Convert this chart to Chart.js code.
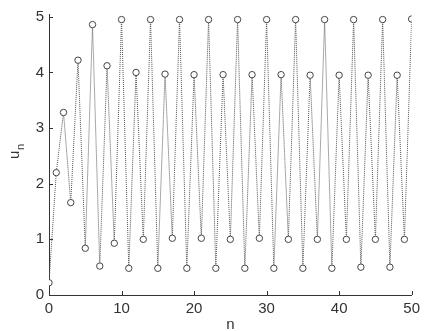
<!DOCTYPE html>
<html>
<head>
<meta charset="utf-8">
<script src="https://cdn.jsdelivr.net/npm/chart.js@4.4.1/dist/chart.umd.min.js"></script>
<style>
    html, body { margin: 0; padding: 0; background: #fff; }
    #wrap { width: 425px; height: 331px; position: relative; }
</style>
</head>
<body>
<div id="wrap"><canvas id="seqChart"></canvas></div>
<script>
// n = 0..50
const nValues = Array.from({ length: 51 }, (_, i) => i);
const uValues = [
    0.22, 2.2, 3.28, 1.66, 4.22, 0.84, 4.86, 0.52, 4.12, 0.93,
    4.95, 0.48, 4.0, 1.0, 4.95, 0.48, 3.97, 1.02, 4.95, 0.48,
    3.96, 1.02, 4.95, 0.48, 3.96, 1.0, 4.95, 0.48, 3.96, 1.02,
    4.95, 0.48, 3.96, 1.0, 4.95, 0.48, 3.95, 1.0, 4.95, 0.48,
    3.95, 1.0, 4.95, 0.5, 3.95, 1.0, 4.95, 0.5, 3.95, 1.0,
    4.96
];
const xTicks = [0, 10, 20, 30, 40, 50];
const yTicks = [0, 1, 2, 3, 4, 5];

const inkColor = '#333333';
const fontFamily = 'Liberation Sans';

// inward tick marks + y label with subscript
const extras = {
    id: 'extras',
    afterDraw(chart) {
        const ctx = chart.ctx;
        const x = chart.scales.x, y = chart.scales.y;
        const area = chart.chartArea;
        ctx.save();
        ctx.strokeStyle = inkColor;
        ctx.lineWidth = 1;
        ctx.beginPath();
        xTicks.forEach(v => {
            const px = Math.round(x.getPixelForValue(v)) + 0.5;
            ctx.moveTo(px, area.bottom);
            ctx.lineTo(px, area.bottom - 4);
        });
        yTicks.forEach(v => {
            const py = Math.round(y.getPixelForValue(v)) + 0.5;
            ctx.moveTo(area.left, py);
            ctx.lineTo(area.left + 4, py);
        });
        ctx.stroke();

        ctx.fillStyle = inkColor;
        ctx.translate(19, 155);
        ctx.rotate(-Math.PI / 2);
        ctx.textBaseline = 'alphabetic';
        ctx.textAlign = 'left';
        ctx.font = '15px ' + fontFamily;
        ctx.fillText('u', -4, 0);
        ctx.font = '11px ' + fontFamily;
        ctx.fillText('n', 5, 5);
        ctx.restore();
    }
};

new Chart(document.getElementById('seqChart').getContext('2d'), {
    type: 'line',
    data: {
        labels: nValues,
        datasets: [{
            data: nValues.map((n, i) => ({ x: n, y: uValues[i] })),
            borderColor: '#555555',
            borderWidth: 1,
            borderDash: [1, 1],
            pointStyle: 'circle',
            pointRadius: 3.2,
            pointBorderColor: '#444',
            pointBorderWidth: 1,
            pointBackgroundColor: '#fff',
            tension: 0,
            fill: false
        }]
    },
    options: {
        responsive: true,
        maintainAspectRatio: false,
        animation: false,
        layout: { padding: { top: 12, right: 8, left: 0, bottom: 0 } },
        plugins: {
            legend: { display: false },
            tooltip: { enabled: false }
        },
        scales: {
            x: {
                type: 'linear',
                min: 0,
                max: 50,
                afterBuildTicks: s => { s.ticks = xTicks.map(v => ({ value: v })); },
                afterFit: s => { s.height = 36; },
                grid: { display: false, drawTicks: false },
                border: { display: true, color: inkColor, width: 1 },
                ticks: {
                    color: inkColor,
                    padding: 5,
                    maxRotation: 0,
                    font: { family: fontFamily, size: 15 }
                },
                title: {
                    display: true,
                    text: 'n',
                    color: inkColor,
                    padding: { top: 0, bottom: -3 },
                    font: { family: fontFamily, size: 15 }
                }
            },
            y: {
                min: 0,
                max: 5.05,
                afterBuildTicks: s => { s.ticks = yTicks.map(v => ({ value: v })); },
                afterFit: s => { s.width = 49; },
                grid: { display: false, drawTicks: false },
                border: { display: true, color: inkColor, width: 1 },
                ticks: {
                    color: inkColor,
                    padding: 5,
                    font: { family: fontFamily, size: 15 }
                }
            }
        }
    },
    plugins: [extras]
});
</script>
</body>
</html>
